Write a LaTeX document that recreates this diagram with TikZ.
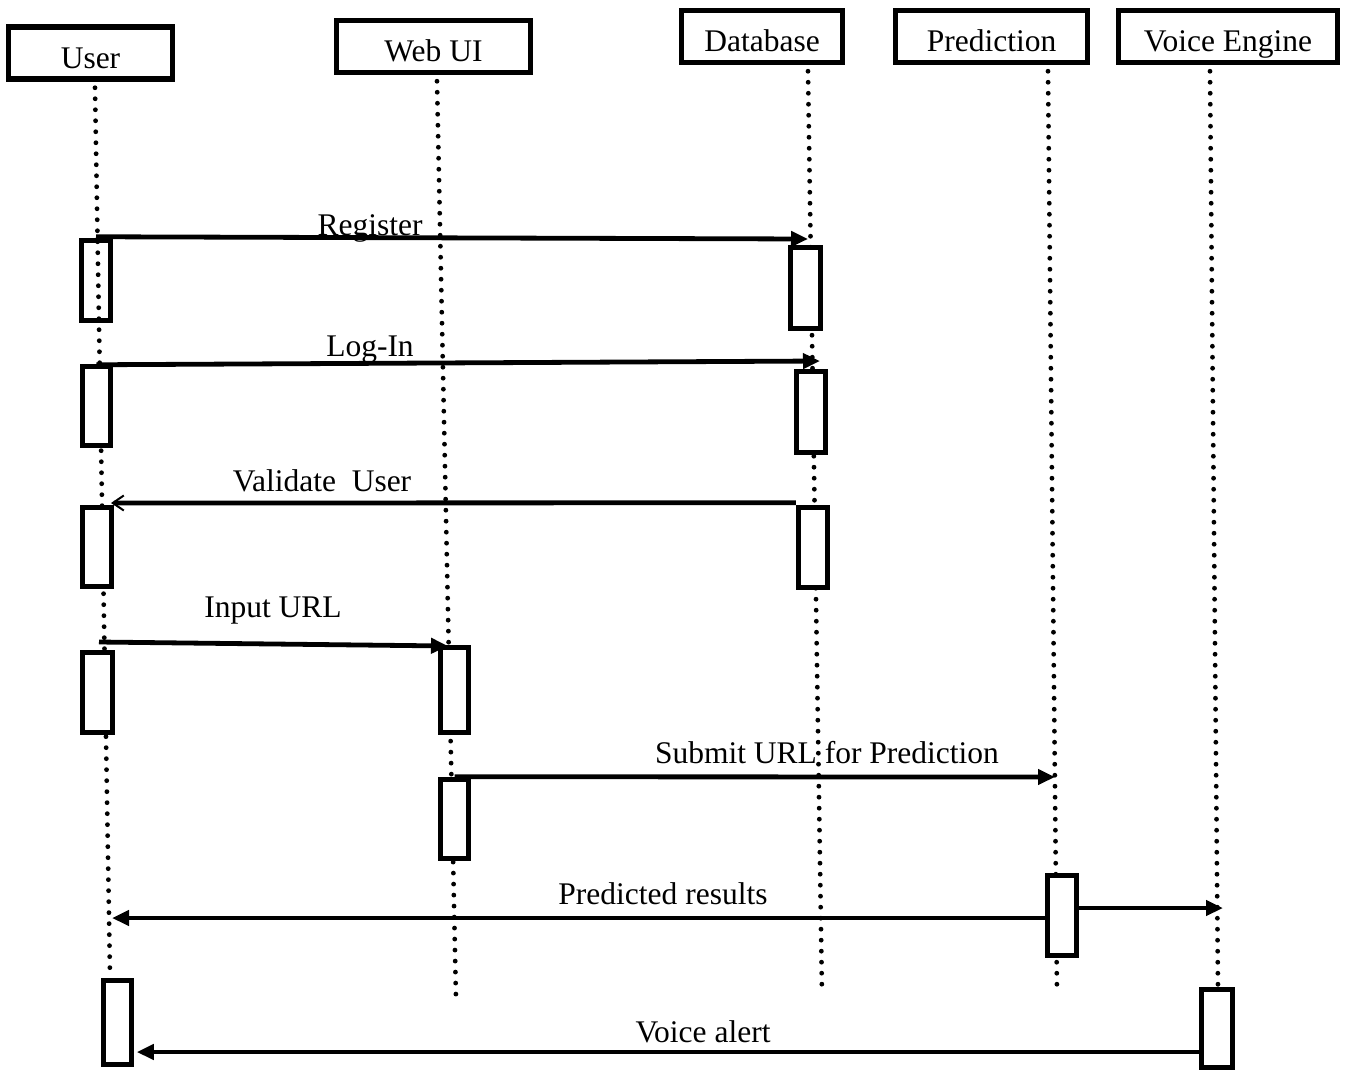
\documentclass[tikz,border=0pt]{standalone}
\usepackage{fontspec}
\setmainfont{Liberation Serif}
\usetikzlibrary{arrows.meta}
\tikzset{
  txt/.style={font=\fontsize{31.5}{36}\selectfont, inner sep=0pt},
  head/.style={draw, line width=5.5pt, fill=white, minimum height=52pt, inner sep=0pt, text height=30pt, text depth=0pt, font=\fontsize{31.5}{36}\selectfont},
  bar/.style={draw, line width=5.5pt, fill=white, minimum width=29pt, minimum height=80pt, inner sep=0pt},
  lifeline/.style={line width=4.8pt, dash pattern=on 0pt off 11pt, line cap=round},
  msg/.style={line width=4.8pt, -{Triangle[length=17pt,width=15pt]}},
  openmsg/.style={line width=4.8pt, -{Straight Barb[length=11pt,width=15pt,line width=2pt]}}
}
\begin{document}
\begin{tikzpicture}[x=1pt,y=-1pt]
\useasboundingbox (0,0) rectangle (1349,1072);
% headers
\node[head, minimum width=164pt] (user) at (90.5,53) {User};
\node[head, minimum width=194pt] (web) at (433.5,46.5) {Web UI};
\node[head, minimum width=161pt] (db) at (762,36.5) {Database};
\node[head, minimum width=192pt] (pred) at (991.5,36.5) {Prediction};
\node[head, minimum width=219pt] (voice) at (1228,36.5) {Voice Engine};
% lifeline ends
\coordinate (uEnd) at (110,975);
\coordinate (wEnd) at (456,1000);
\coordinate (dEnd) at (822,995);
\coordinate (pEnd) at (1057,995);
\coordinate (vEnd) at (1218,990);
\draw[lifeline] ([xshift=4.5pt,yshift=-6pt]user.south) -- (uEnd);
\draw[lifeline] ([xshift=3.5pt,yshift=-6pt]web.south) -- (wEnd);
\draw[lifeline] ([xshift=46pt,yshift=-6pt]db.south) -- (dEnd);
\draw[lifeline] ([xshift=56.5pt,yshift=-6pt]pred.south) -- (pEnd);
\draw[lifeline] ([xshift=-18pt,yshift=-6pt]voice.south) -- (vEnd);
% activation bars
\node[bar, fill=none] (ub1) at (96,280.5) {};
\node[bar, minimum width=28pt, minimum height=79pt] (ub2) at (96.5,406) {};
\node[bar, minimum height=79pt] (ub3) at (97,547) {};
\node[bar, minimum width=30pt] (ub4) at (97.5,692.5) {};
\node[bar, minimum width=28pt, minimum height=84pt] (ub5) at (117.5,1022.5) {};
\node[bar, minimum width=30pt, minimum height=81pt] (db1) at (805.5,288) {};
\node[bar, minimum height=81pt] (db2) at (811,412) {};
\node[bar] (db3) at (813,547.5) {};
\node[bar, minimum width=28pt, minimum height=85pt] (wb1) at (454.5,690) {};
\node[bar, minimum width=28pt, minimum height=79pt] (wb2) at (454.5,819) {};
\node[bar] (pb1) at (1062,915.5) {};
\node[bar, minimum width=31pt, minimum height=78pt] (vb1) at (1217,1028.5) {};
% message end points
\coordinate (regTip) at (808,239);
\coordinate (logTip) at (820,361);
\coordinate (valTip) at (111,503);
\coordinate (inStart) at (99,642);
\coordinate (inTip) at (448,646);
\coordinate (subTip) at (1055,777);
\coordinate (predTip) at (112,918);
\coordinate (pvTip) at (1223,908);
\coordinate (yPred) at (0,918);
\coordinate (yPV) at (0,908);
\coordinate (yVA) at (0,1052);
% messages
\draw[msg] ([yshift=1pt]ub1.north) -- (regTip);
\draw[msg] ([yshift=-1pt]ub2.north) -- (logTip);
\draw[openmsg] ([yshift=2pt]db3.north west) -- (valTip);
\draw[msg] (inStart) -- (inTip);
\draw[msg] (wb2.north) -- (subTip);
\draw[msg] (pb1.west |- yPred) -- (predTip);
\draw[msg] (pb1.east |- yPV) -- (pvTip);
\draw[msg] (vb1.west |- yVA) -- ([xshift=2.5pt]ub5.east |- yVA);
% labels
\node[txt] (lReg) at (370,228) {Register};
\node[txt] (lLog) at (370,350) {Log-In};
\node[txt] (lVal) at (322,481) {Validate~~User};
\node[txt] (lIn) at (273,611) {Input URL};
\node[txt] (lSub) at (827,753) {Submit URL for Prediction};
\node[txt] (lPred) at (663,894) {Predicted results};
\node[txt] (lVA) at (703,1032) {Voice alert};
\end{tikzpicture}
\end{document}
